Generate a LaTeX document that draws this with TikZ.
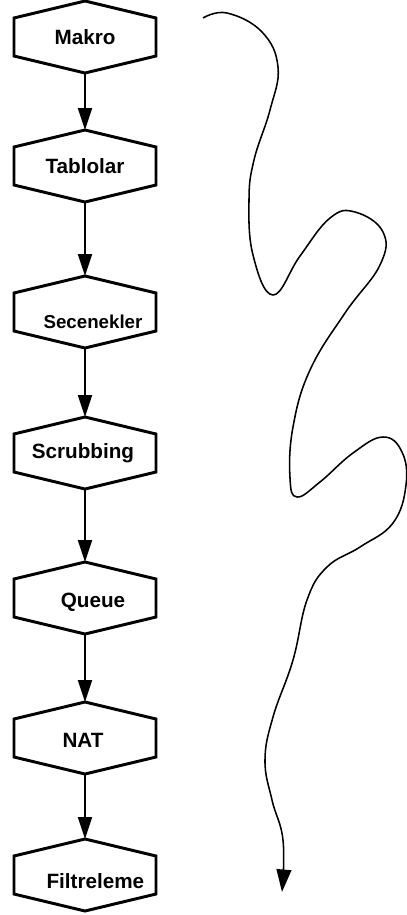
\documentclass[tikz,border=0pt]{standalone}
\usepackage{fontspec}
\setmainfont{Liberation Sans}
\usetikzlibrary{arrows.meta}

\begin{document}
\begin{tikzpicture}[x=0.025cm, y=-0.025cm]
	\tikzset{hexbox/.style={minimum width=3.55cm, minimum height=1.8cm, inner sep=0pt, outer sep=0pt},
	         hextext/.style={font=\fontsize{14.7}{16}\selectfont\bfseries, inner sep=0pt},
	         hexline/.style={line width=2.1pt, line join=miter},
	         flow/.style={line width=1.4pt, -{Triangle[length=15.6pt, width=10pt]}}}

	\useasboundingbox (0,0) rectangle (407,915);

	\node[hexbox, label={[hextext]center:Makro}] (makro) at (85,37) {};
	\node[hexbox, label={[hextext]center:Tablolar}] (tablolar) at (85,166) {};
	\node[hexbox, label={[hextext, font=\fontsize{13.3}{15}\selectfont\bfseries, xshift=0.2cm, yshift=-0.24cm]center:Secenekler}] (secenekler) at (85,312) {};
	\node[hexbox, label={[hextext, xshift=-0.05cm]center:Scrubbing}] (scrubbing) at (85,453) {};
	\node[hexbox, label={[hextext, xshift=0.2cm, yshift=-0.12cm]center:Queue}] (queue) at (85,598) {};
	\node[hexbox, label={[hextext, xshift=-0.05cm, yshift=-0.05cm]center:NAT}] (nat) at (85,738) {};
	\node[hexbox, label={[hextext, xshift=0.26cm, yshift=-0.15cm]center:Filtreleme}] (filtreleme) at (85,875) {};

	% hexagon outline round every box
	\foreach \n in {makro,tablolar,secenekler,scrubbing,queue,nat,filtreleme}
	    \draw[hexline] (\n.north) -- ([yshift=-0.425cm]\n.north east) -- ([yshift=0.425cm]\n.south east)
	        -- (\n.south) -- ([yshift=0.425cm]\n.south west) -- ([yshift=-0.425cm]\n.north west) -- cycle;

	\draw[flow] (makro.south) -- (tablolar.north);
	\draw[flow] (tablolar.south) -- (secenekler.north);
	\draw[flow] (secenekler.south) -- (scrubbing.north);
	\draw[flow] (scrubbing.south) -- (queue.north);
	\draw[flow] (queue.south) -- (nat.north);
	\draw[flow] (nat.south) -- (filtreleme.north);

	% the long wavy line on the right
	\draw[line width=1.1pt, -{Triangle[length=16pt, width=10.5pt]}] plot[smooth, tension=0.7] coordinates {
	    (203,18) (227,13) (262,32) (278,67) (270,110) (254,160) (249,200) (253,255) (273,295)
	    (300,256) (330,218) (355,212) (383,232) (380,265) (345,313) (310,370) (293,427) (290,478)
	    (297,497) (320,482) (353,453) (383,437) (402,452) (406,485) (393,523) (360,547) (327,567)
	    (307,600) (293,660) (273,717) (265,760) (272,800) (283,840) (282,892)};
\end{tikzpicture}
\end{document}
